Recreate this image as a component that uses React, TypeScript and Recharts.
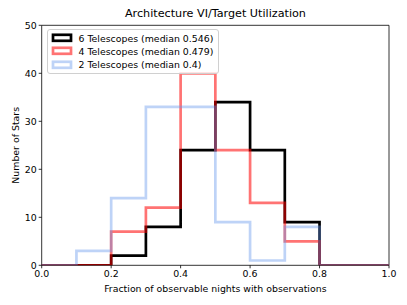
import { LineChart, Line, XAxis, YAxis, ReferenceArea, Legend } from 'recharts';

// histogram bin edges (0.1 wide) and counts per bin
const binEdges = [0, 0.1, 0.2, 0.3, 0.4, 0.5, 0.6, 0.7, 0.8, 0.9, 1.0];
const sixTelescopes = [0, 0, 2, 8, 24, 34, 24, 9, 0, 0];
const fourTelescopes = [0, 0, 7, 12, 40, 24, 13, 5, 0, 0];
const twoTelescopes = [0, 3, 14, 33, 33, 9, 1, 8, 0, 0];

const xTicks = [0, 0.2, 0.4, 0.6, 0.8, 1.0];
const yTicks = [0, 10, 20, 30, 40, 50];

const SERIES = [
  { key: 'six', name: '6 Telescopes (median 0.546)', color: '#000000', opacity: 1 },
  { key: 'four', name: '4 Telescopes (median 0.479)', color: '#ff0000', opacity: 0.55 },
  { key: 'two', name: '2 Telescopes (median 0.4)', color: '#6495ed', opacity: 0.42 },
];

// stepAfter: last edge repeats the last bin so the step closes at 1.0
const data = binEdges.map((x, i) => {
  const b = Math.min(i, sixTelescopes.length - 1);
  return { x, six: sixTelescopes[b], four: fourTelescopes[b], two: twoTelescopes[b] };
});

const FONT = '"DejaVu Sans", sans-serif';
const FS = 9.4;

const renderLegend = () => (
  <div
    style={{
      border: '1px solid #d0d0d0',
      borderRadius: 3,
      background: 'rgba(255,255,255,0.8)',
      padding: '2px 5px 2px 2px',
      fontFamily: FONT,
      fontSize: FS,
      color: '#000',
      lineHeight: '13.3px',
    }}
  >
    {SERIES.map((s) => (
      <div key={s.key} style={{ display: 'flex', alignItems: 'center', whiteSpace: 'nowrap' }}>
        <svg width={29} height={10}>
          <rect
            x={3}
            y={1.8}
            width={18}
            height={6}
            fill="none"
            stroke={s.color}
            strokeOpacity={s.opacity}
            strokeWidth={2.7}
          />
        </svg>
        <span>{s.name}</span>
      </div>
    ))}
  </div>
);

export default function App() {
  return (
    <div style={{ width: 407, height: 305, position: 'relative', background: '#fff' }}>
      <style>{`body{margin:0}`}</style>
      <div
        style={{
          position: 'absolute',
          top: 6.5,
          left: 41.7,
          width: 347.5,
          textAlign: 'center',
          fontFamily: FONT,
          fontSize: 11.2,
          color: '#000',
        }}
      >
        Architecture VI/Target Utilization
      </div>
      <LineChart
        width={407}
        height={305}
        data={data}
        margin={{ top: 25.3, right: 18, bottom: 0, left: 11.7 }}
      >
        <XAxis
          dataKey="x"
          type="number"
          domain={[0, 1]}
          ticks={xTicks}
          tickFormatter={(v: number) => v.toFixed(1)}
          axisLine={false}
          tickLine={{ stroke: '#000', strokeWidth: 0.8 }}
          tickSize={3}
          tick={{ fill: '#000', fontSize: FS, fontFamily: FONT }}
          height={39.7}
          label={{
            value: 'Fraction of observable nights with observations',
            position: 'insideBottom',
            offset: 13.5,
            fill: '#000',
            fontSize: FS,
            fontFamily: FONT,
          }}
        />
        <YAxis
          type="number"
          domain={[0, 50]}
          ticks={yTicks}
          allowDataOverflow
          axisLine={false}
          tickLine={{ stroke: '#000', strokeWidth: 0.8 }}
          tickSize={3}
          tick={{ fill: '#000', fontSize: FS, fontFamily: FONT }}
          width={30}
          label={{
            value: 'Number of Stars',
            angle: -90,
            position: 'insideLeft',
            offset: 4,
            style: { textAnchor: 'middle' },
            fill: '#000',
            fontSize: FS,
            fontFamily: FONT,
          }}
        />
        {SERIES.map((s) => (
          <Line
            key={s.key}
            dataKey={s.key}
            name={s.name}
            type="stepAfter"
            stroke={s.color}
            strokeOpacity={s.opacity}
            strokeWidth={2.7}
            strokeLinejoin="miter"
            dot={false}
            activeDot={false}
            isAnimationActive={false}
          />
        ))}
        <ReferenceArea x1={0} x2={1} y1={0} y2={50} fill="none" stroke="#000" strokeWidth={0.8} />
        <Legend
          content={renderLegend}
          layout="vertical"
          align="center"
          verticalAlign="middle"
          wrapperStyle={{ position: 'absolute', top: 28.5, left: 46.5, width: 'auto' }}
        />
      </LineChart>
    </div>
  );
}
